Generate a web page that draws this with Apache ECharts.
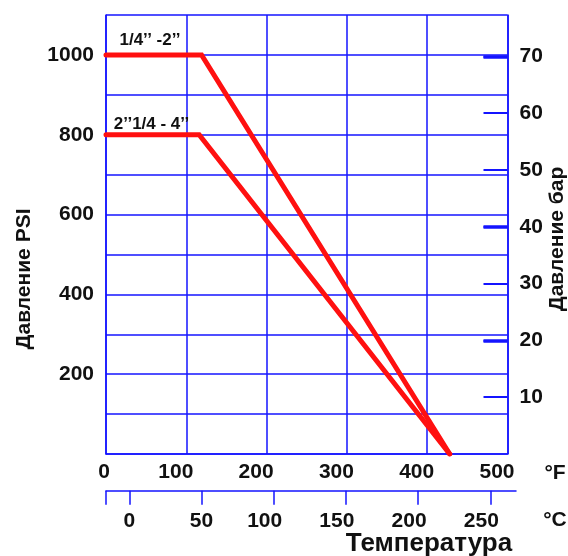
<!DOCTYPE html>
<html>
<head>
<meta charset="utf-8">
<script src="https://cdn.jsdelivr.net/npm/echarts@6/dist/echarts.min.js"></script>
<style>
  html, body { margin: 0; padding: 0; background: #fff; }
  #chart { width: 568px; height: 556px; }
</style>
</head>
<body>
<div id="chart"></div>
<script>
// temperature (°F) / pressure (PSI) points
const smallValveName = '1/4’’ -2’’';
const smallValveF = [0, 119, 428];
const smallValvePsi = [1000, 1000, 0];

const largeValveName = '2’’1/4 - 4’’';
const largeValveF = [0, 116, 428];
const largeValvePsi = [800, 800, 0];

// tick labels
const psiLabels = [200, 400, 600, 800, 1000];
const barTicks = [10, 20, 30, 40, 50, 60, 70];
const barThickTicks = [20, 40, 70];
const celsiusTicks = [0, 50, 100, 150, 200, 250];

const FONT = '"Liberation Sans", Arial, sans-serif';
const BLUE = '#1414ff';
const RED = '#ff1010';

const celsiusMin = -16.1;
const celsiusMax = 267.8;

const chart = echarts.init(document.getElementById('chart'));

const labelStyle = { color: '#111', fontFamily: FONT, fontWeight: 'bold', fontSize: 21 };

const lineSeries = (name, xs, ys, offset) => ({
  name: name,
  type: 'line',
  xAxisIndex: 0,
  yAxisIndex: 0,
  data: xs.map((x, i) => [x, ys[i]]),
  symbol: 'circle',
  symbolSize: 1,
  showSymbol: true,
  itemStyle: { color: RED },
  lineStyle: { color: RED, width: 5, cap: 'round', join: 'miter' },
  label: {
    show: true,
    position: 'top',
    offset: offset,
    formatter: p => (p.dataIndex === 0 ? name : ''),
    color: '#111',
    fontFamily: FONT,
    fontWeight: 'bold',
    fontSize: 17
  },
  z: 5,
  animation: false
});

const option = {
  backgroundColor: '#fff',
  animation: false,
  grid: [
    { left: 106, top: 15, width: 401.5, height: 439 },
    { left: 106, top: 480, width: 410, height: 10.7 }
  ],
  xAxis: [
    {
      gridIndex: 0,
      type: 'value',
      min: 0,
      max: 500,
      interval: 100,
      axisLine: { show: true, lineStyle: { color: BLUE, width: 1.5 } },
      axisTick: { show: false },
      splitLine: { show: true, lineStyle: { color: BLUE, width: 1.5 } },
      axisLabel: {
        ...labelStyle,
        margin: 8,
        formatter: v => (v === 0 ? '{a|0}' : '{b|' + v + '}'),
        rich: {
          a: { ...labelStyle, padding: [0, 4, 0, 0] },
          b: { ...labelStyle, padding: [0, 21, 0, 0] }
        }
      }
    },
    {
      gridIndex: 1,
      type: 'value',
      min: celsiusMin,
      max: celsiusMax,
      axisLine: { show: true, lineStyle: { color: BLUE, width: 1.5 } },
      axisTick: {
        show: true,
        inside: false,
        length: 14,
        customValues: [celsiusMin].concat(celsiusTicks),
        lineStyle: { color: BLUE, width: 1.5 }
      },
      splitLine: { show: false },
      axisLabel: {
        ...labelStyle,
        margin: 20,
        customValues: celsiusTicks,
        formatter: v => (v >= 100 ? '{b|' + v + '}' : '{a|' + v + '}'),
        rich: {
          a: { ...labelStyle },
          b: { ...labelStyle, padding: [0, 18, 0, 0] }
        }
      }
    }
  ],
  yAxis: [
    {
      gridIndex: 0,
      type: 'value',
      position: 'left',
      min: 0,
      max: 1100,
      interval: 100,
      axisLine: { show: true, lineStyle: { color: BLUE, width: 1.5 } },
      axisTick: { show: false },
      splitLine: { show: true, lineStyle: { color: BLUE, width: 1.5 } },
      axisLabel: {
        ...labelStyle,
        margin: 12,
        formatter: v => (psiLabels.includes(v) ? String(v) : '')
      }
    },
    {
      gridIndex: 0,
      type: 'value',
      position: 'right',
      min: 0,
      max: 77.3,
      axisLine: { show: true, lineStyle: { color: BLUE, width: 1.5 } },
      axisTick: {
        show: true,
        inside: true,
        length: 24,
        customValues: barTicks,
        lineStyle: { color: BLUE, width: 2 }
      },
      splitLine: { show: false },
      axisLabel: { ...labelStyle, margin: 12, customValues: barTicks }
    },
    {
      gridIndex: 0,
      type: 'value',
      position: 'right',
      min: 0,
      max: 77.3,
      axisLine: { show: false },
      axisTick: {
        show: true,
        inside: true,
        length: 24,
        customValues: barThickTicks,
        lineStyle: { color: BLUE, width: 3.5 }
      },
      splitLine: { show: false },
      axisLabel: { show: false }
    },
    { gridIndex: 1, type: 'value', show: false }
  ],
  graphic: [
    {
      type: 'text', x: 24, y: 279, rotation: Math.PI / 2,
      style: { text: 'Давление PSI', font: 'bold 21px ' + FONT, fill: '#111', textAlign: 'center', textVerticalAlign: 'middle' }
    },
    {
      type: 'text', x: 557, y: 239, rotation: Math.PI / 2,
      style: { text: 'Давление бар', font: 'bold 21px ' + FONT, fill: '#111', textAlign: 'center', textVerticalAlign: 'middle' }
    },
    {
      type: 'text', x: 555, y: 473,
      style: { text: '°F', font: 'bold 21px ' + FONT, fill: '#111', textAlign: 'center', textVerticalAlign: 'middle' }
    },
    {
      type: 'text', x: 555, y: 520,
      style: { text: '°C', font: 'bold 21px ' + FONT, fill: '#111', textAlign: 'center', textVerticalAlign: 'middle' }
    },
    {
      type: 'text', x: 429, y: 531,
      style: { text: 'Температура', font: 'bold 26px ' + FONT, fill: '#111', textAlign: 'center', textVerticalAlign: 'top' }
    }
  ],
  series: [
    lineSeries(smallValveName, smallValveF, smallValvePsi, [44, -1]),
    lineSeries(largeValveName, largeValveF, largeValvePsi, [45.5, 3.5])
  ]
};

chart.setOption(option);
</script>
</body>
</html>
